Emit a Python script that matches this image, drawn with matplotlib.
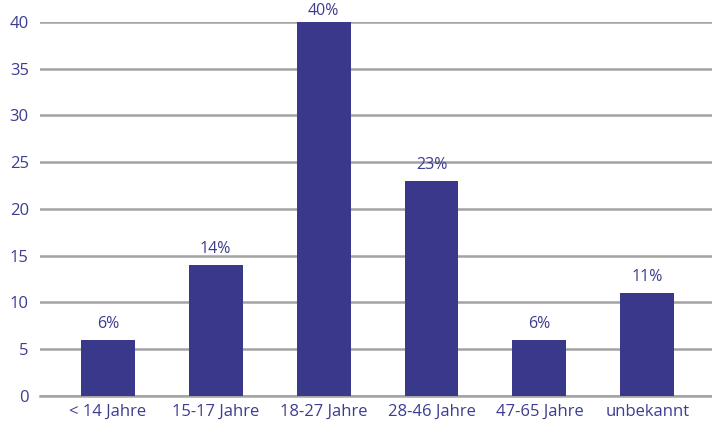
import matplotlib
matplotlib.use("Agg")
import matplotlib.pyplot as plt

categories = ["< 14 Jahre", "15-17 Jahre", "18-27 Jahre", "28-46 Jahre", "47-65 Jahre", "unbekannt"]
values = [6, 14, 40, 23, 6, 11]
labels = ["6%", "14%", "40%", "23%", "6%", "11%"]
yticks = [0, 5, 10, 15, 20, 25, 30, 35, 40]

bar_color = "#3a388a"
text_color = "#3d3d90"
grid_color = "#a3a3a3"

plt.rcParams["font.family"] = ["Open Sans", "DejaVu Sans"]

fig = plt.figure(figsize=(7.12, 4.28), dpi=100)
ax = fig.add_axes([0.056, 0.0748, 0.944, 0.8738])

x = list(range(len(categories)))
ax.bar(x, values, width=0.5, color=bar_color, zorder=3)
ymax = yticks[-1]
for xi, v, lab in zip(x, values, labels):
    # labels sit above the bar, pushed down near the top edge so they stay visible
    ax.text(xi, min(v + 1.3, ymax + 0.8), lab, ha="center", va="baseline",
            color=text_color, fontsize=11.5, clip_on=False)

ax.set_xlim(-0.63, 5.6)
ax.set_ylim(0, ymax)
ax.set_yticks(yticks)
ax.set_xticks(x)
ax.set_xticklabels(categories)
ax.yaxis.grid(True, color=grid_color, linewidth=1.8, zorder=0)
ax.set_axisbelow(True)
for side in ["top", "right", "left"]:
    ax.spines[side].set_visible(False)
ax.spines["bottom"].set_color(grid_color)
ax.spines["bottom"].set_linewidth(1.8)
ax.tick_params(axis="both", length=0, colors=text_color, labelsize=12)
ax.tick_params(axis="x", pad=6)
ax.tick_params(axis="y", pad=8)

fig.savefig("out.png", dpi=100)
